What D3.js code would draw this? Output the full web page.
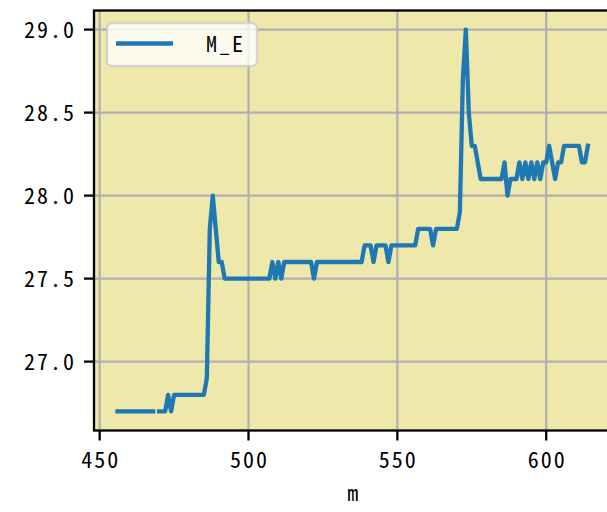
<!DOCTYPE html>
<html>
<head>
<meta charset="utf-8">
<script src="https://cdn.jsdelivr.net/npm/d3@7"></script>
<style>
  html, body { margin: 0; padding: 0; background: #ffffff; }
  svg { display: block; }
  .lbl { font-family: "Noto Sans CJK SC", "DejaVu Sans", sans-serif; font-size: 22px; fill: #000; letter-spacing: 2px; font-feature-settings: "hwid" 1; }
</style>
</head>
<body>
<svg id="chart" width="607" height="512"></svg>
<script>
// ---- data ----
const m = [
  456,457,458,459,460,461,462,463,464,465,
  466,467,468,469,470,471,472,473,474,475,
  476,477,478,479,480,481,482,483,484,485,
  486,487,488,489,490,491,492,493,494,495,
  496,497,498,499,500,501,502,503,504,505,
  506,507,508,509,510,511,512,513,514,515,
  516,517,518,519,520,521,522,523,524,525,
  526,527,528,529,530,531,532,533,534,535,
  536,537,538,539,540,541,542,543,544,545,
  546,547,548,549,550,551,552,553,554,555,
  556,557,558,559,560,561,562,563,564,565,
  566,567,568,569,570,571,572,573,574,575,
  576,577,578,579,580,581,582,583,584,585,
  586,587,588,589,590,591,592,593,594,595,
  596,597,598,599,600,601,602,603,604,605,
  606,607,608,609,610,611,612,613,614
];
const M_E = [
  26.7,26.7,26.7,26.7,26.7,26.7,26.7,26.7,26.7,26.7,
  26.7,26.7,26.7,null,26.7,26.7,26.7,26.8,26.7,26.8,
  26.8,26.8,26.8,26.8,26.8,26.8,26.8,26.8,26.8,26.8,
  26.9,27.8,28.0,27.8,27.6,27.6,27.5,27.5,27.5,27.5,
  27.5,27.5,27.5,27.5,27.5,27.5,27.5,27.5,27.5,27.5,
  27.5,27.5,27.6,27.5,27.6,27.5,27.6,27.6,27.6,27.6,
  27.6,27.6,27.6,27.6,27.6,27.6,27.5,27.6,27.6,27.6,
  27.6,27.6,27.6,27.6,27.6,27.6,27.6,27.6,27.6,27.6,
  27.6,27.6,27.6,27.7,27.7,27.7,27.6,27.7,27.7,27.7,
  27.7,27.6,27.7,27.7,27.7,27.7,27.7,27.7,27.7,27.7,
  27.7,27.8,27.8,27.8,27.8,27.8,27.7,27.8,27.8,27.8,
  27.8,27.8,27.8,27.8,27.8,27.9,28.7,29.0,28.5,28.3,
  28.3,28.2,28.1,28.1,28.1,28.1,28.1,28.1,28.1,28.1,
  28.2,28.0,28.1,28.1,28.1,28.2,28.1,28.2,28.1,28.2,
  28.1,28.2,28.1,28.2,28.2,28.3,28.2,28.1,28.2,28.2,
  28.3,28.3,28.3,28.3,28.3,28.3,28.2,28.2,28.3
];
const xTicks = [450, 500, 550, 600];
const yTicks = [27.0, 27.5, 28.0, 28.5, 29.0];
const seriesName = "M_E";
const xLabel = "m";

// ---- layout ----
const L = 94, R = 611.4, T = 10.5, B = 430.5;
const svg = d3.select("#chart");

const xs = d3.scaleLinear().domain([448.1, 621.9]).range([L, R]);
const ys = d3.scaleLinear().domain([26.585, 29.115]).range([B, T]);

// axes background
svg.append("rect").attr("x", L).attr("y", T).attr("width", R - L).attr("height", B - T)
  .attr("fill", "#eee8aa");

// grid
svg.append("g").selectAll("line").data(xTicks).join("line")
  .attr("x1", d => xs(d)).attr("x2", d => xs(d)).attr("y1", T).attr("y2", B)
  .attr("stroke", "#b0b0b0").attr("stroke-width", 2.2);
svg.append("g").selectAll("line").data(yTicks).join("line")
  .attr("y1", d => ys(d)).attr("y2", d => ys(d)).attr("x1", L).attr("x2", R)
  .attr("stroke", "#b0b0b0").attr("stroke-width", 2.2);

// line
const pts = m.map((x, i) => ({ x, v: M_E[i] }));
const line = d3.line().defined(d => d.v != null).x(d => xs(d.x)).y(d => ys(d.v));
svg.append("path").datum(pts).attr("d", line)
  .attr("fill", "none").attr("stroke", "#1f77b4").attr("stroke-width", 4.3)
  .attr("stroke-linejoin", "round").attr("stroke-linecap", "square");

// spines
svg.append("rect").attr("x", L).attr("y", T).attr("width", R - L).attr("height", B - T)
  .attr("fill", "none").attr("stroke", "#000").attr("stroke-width", 2.3);

// x axis ticks
const gx = svg.append("g");
gx.selectAll("line").data(xTicks).join("line")
  .attr("x1", d => xs(d)).attr("x2", d => xs(d)).attr("y1", B).attr("y2", B + 10)
  .attr("stroke", "#000").attr("stroke-width", 2.3);
gx.selectAll("text").data(xTicks).join("text").attr("class", "lbl")
  .attr("x", d => xs(d) + 1).attr("y", B + 37).attr("text-anchor", "middle")
  .text(d => d3.format("d")(d));

// y axis ticks
const gy = svg.append("g");
gy.selectAll("line").data(yTicks).join("line")
  .attr("y1", d => ys(d)).attr("y2", d => ys(d)).attr("x1", L - 10).attr("x2", L)
  .attr("stroke", "#000").attr("stroke-width", 2.3);
gy.selectAll("text").data(yTicks).join("text").attr("class", "lbl")
  .attr("x", L - 18).attr("y", d => ys(d) + 8).attr("text-anchor", "end")
  .text(d => d3.format(".1f")(d));

// x label
svg.append("text").attr("class", "lbl").attr("x", (L + R) / 2 + 1).attr("y", 501)
  .attr("text-anchor", "middle").text(xLabel);

// legend
const lg = svg.append("g");
lg.append("rect").attr("x", 107).attr("y", 23).attr("width", 150).attr("height", 43)
  .attr("rx", 5).attr("fill", "#ffffff").attr("fill-opacity", 0.8)
  .attr("stroke", "#cccccc").attr("stroke-opacity", 0.8).attr("stroke-width", 2.3);
lg.append("line").attr("x1", 116).attr("x2", 173).attr("y1", 43.5).attr("y2", 43.5)
  .attr("stroke", "#1f77b4").attr("stroke-width", 4.3);
lg.append("text").attr("class", "lbl").attr("x", 206).attr("y", 52).text(seriesName);
</script>
</body>
</html>
